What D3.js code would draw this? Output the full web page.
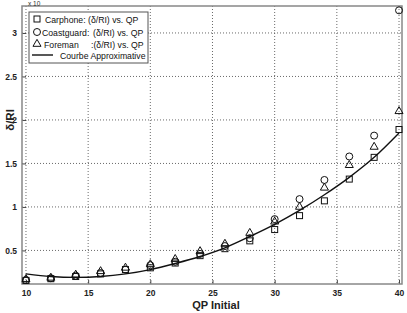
<!DOCTYPE html>
<html><head><meta charset="utf-8">
<script src="https://cdn.jsdelivr.net/npm/d3@7"></script>
<style>body{margin:0;background:#fff}svg{display:block}text{font-family:Arial,"Liberation Sans",sans-serif}</style>
</head><body>
<script>
const qp = [10,12,14,16,18,20,22,24,26,28,30,32,34,36,38,40];
const carphone   = [0.155,0.175,0.20,0.23,0.28,0.30,0.355,0.44,0.52,0.61,0.74,0.90,1.07,1.32,1.57,1.89];
const coastguard = [0.16,0.18,0.21,0.24,0.28,0.33,0.37,0.46,0.55,0.64,0.86,1.09,1.31,1.58,1.82,3.26];
const foreman    = [0.17,0.185,0.22,0.26,0.30,0.34,0.40,0.49,0.575,0.70,0.83,1.00,1.22,1.48,1.69,2.10];
const curveX = [10,12,14,16,18,20,22,24,26,28,30,32,34,36,38,40];
const curveY = [0.23,0.20,0.19,0.20,0.23,0.28,0.35,0.43,0.53,0.66,0.80,0.96,1.14,1.34,1.57,1.85];
const xTicks = [10,15,20,25,30,35,40];
const yTicks = [0.5,1,1.5,2,2.5,3];
const legendLabels = ["Carphone:", "Coastguard:", "Foreman", "Courbe Approximative"];
const legendSuffix = ["(\u03b4/RI) vs. QP", "(\u03b4/RI) vs. QP", ":(\u03b4/RI) vs. QP", ""];

const W=407,H=313, L=22,R=402,T=6,B=284;
const svg=d3.select("body").append("svg").attr("width",W).attr("height",H);
const x=d3.scaleLinear().domain([9.68,40.24]).range([L,R]);
const y=d3.scaleLinear().domain([0.114,3.31]).range([B,T]);

// grid
const g=svg.append("g");
g.selectAll(".gx").data(xTicks).join("line").attr("x1",d=>x(d)).attr("x2",d=>x(d)).attr("y1",T).attr("y2",B)
 .attr("stroke","#444").attr("stroke-width",0.8).attr("stroke-dasharray","1,2");
g.selectAll(".gy").data(yTicks).join("line").attr("y1",d=>y(d)).attr("y2",d=>y(d)).attr("x1",L).attr("x2",R)
 .attr("stroke","#444").attr("stroke-width",0.8).attr("stroke-dasharray","1,2");

// axes
const xa=svg.append("g").attr("transform",`translate(0,${B})`).call(d3.axisBottom(x).tickValues(xTicks).tickSize(-4).tickPadding(6).tickFormat(d3.format("d")));
const ya=svg.append("g").attr("transform",`translate(${L},0)`).call(d3.axisLeft(y).tickValues(yTicks).tickSize(-4).tickPadding(5).tickFormat(d=>d));
[xa,ya].forEach(a=>{a.select(".domain").remove();a.selectAll("line").attr("stroke","#444");
 a.selectAll("text").attr("font-size","8.5px").attr("font-weight","bold").attr("fill","#222");});
svg.append("rect").attr("x",L).attr("y",T).attr("width",R-L).attr("height",B-T).attr("fill","none").attr("stroke","#888").attr("stroke-width",1.5);

// labels
svg.append("text").attr("x",28).attr("y",5.5).attr("font-size","6.5px").attr("fill","#333").text("x 10");
svg.append("text").attr("x",216).attr("y",309).attr("text-anchor","middle").attr("font-size","11px").attr("font-weight","bold").attr("fill","#222").text("QP Initial");
svg.append("text").attr("transform","translate(14,120) rotate(-90)").attr("text-anchor","middle").attr("font-size","11.5px").attr("font-weight","bold").attr("fill","#222").text("\u03b4/RI");

// curve
const line=d3.line().x((d,i)=>x(curveX[i])).y(d=>y(d)).curve(d3.curveMonotoneX);
svg.append("path").datum(curveY).attr("d",line).attr("fill","none").attr("stroke","#111").attr("stroke-width",1.4);

// markers
const mk=svg.append("g").attr("fill","none").attr("stroke","#111").attr("stroke-width",1);
mk.selectAll(".sq").data(carphone).join("rect").attr("x",(d,i)=>x(qp[i])-3).attr("y",d=>y(d)-3).attr("width",6).attr("height",6);
mk.selectAll(".ci").data(coastguard).join("circle").attr("cx",(d,i)=>x(qp[i])).attr("cy",d=>y(d)).attr("r",3.5);
const tri=d3.symbol().type(d3.symbolTriangle).size(28);
mk.selectAll(".tr").data(foreman).join("path").attr("d",tri).attr("transform",(d,i)=>`translate(${x(qp[i])},${y(d)})`);

// legend
const lg=svg.append("g");
lg.append("rect").attr("x",29).attr("y",12).attr("width",119).attr("height",51).attr("fill","#fff").attr("stroke","#555").attr("stroke-width",1);
const ly=[19,32,44,55];
lg.append("rect").attr("x",34).attr("y",ly[0]-3).attr("width",6).attr("height",6).attr("fill","none").attr("stroke","#111");
lg.append("circle").attr("cx",37).attr("cy",ly[1]).attr("r",3.5).attr("fill","none").attr("stroke","#111");
lg.append("path").attr("d",tri).attr("transform",`translate(37,${ly[2]})`).attr("fill","none").attr("stroke","#111");
lg.append("line").attr("x1",32).attr("x2",53).attr("y1",ly[3]).attr("y2",ly[3]).attr("stroke","#111").attr("stroke-width",1.4);
const lx=[45,42,44,60], sx=[88,93,91,0];
legendLabels.forEach((t,i)=>{
  lg.append("text").attr("x",lx[i]).attr("y",ly[i]+3.5).attr("font-size","8.7px").attr("fill","#111").text(t);
  if(legendSuffix[i]) lg.append("text").attr("x",sx[i]).attr("y",ly[i]+3.5).attr("font-size","8.7px").attr("fill","#111").text(legendSuffix[i]);
});
</script>
</body></html>
